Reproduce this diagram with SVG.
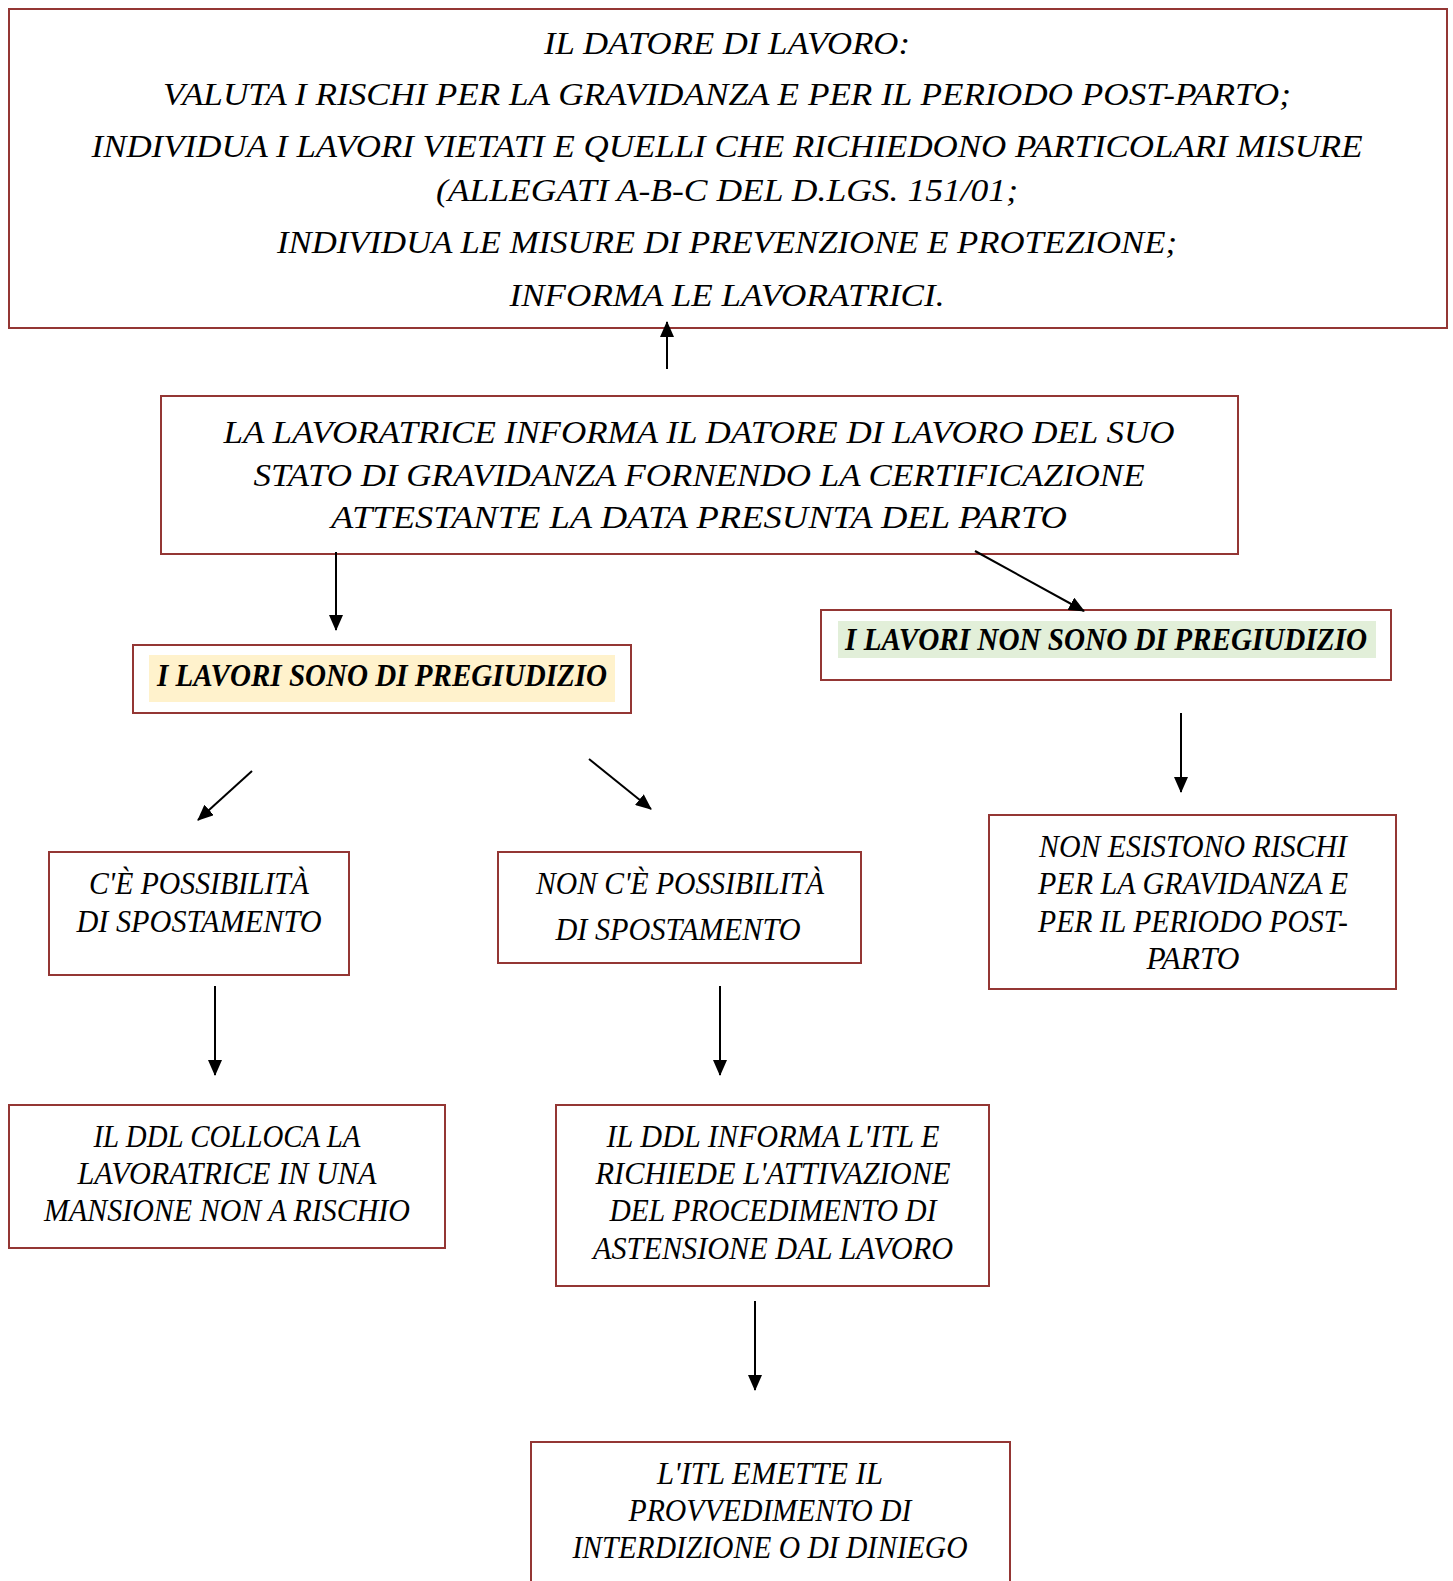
<svg xmlns="http://www.w3.org/2000/svg" width="1453" height="1581" viewBox="0 0 1453 1581">
<defs>
<style>
.box{fill:#ffffff;stroke:#943634;stroke-width:2}
.t{font-family:"Liberation Serif","Times New Roman",serif;font-style:italic;font-size:31px;fill:#000;text-anchor:middle}
.b{font-weight:bold}
.c{stroke:#000;stroke-width:2;fill:none;marker-end:url(#ah)}
</style>
<marker id="ah" viewBox="0 0 16 14" refX="15" refY="7" markerWidth="16" markerHeight="14" markerUnits="userSpaceOnUse" orient="auto">
<path d="M0,0 L16,7 L0,14 Z" fill="#000"/>
</marker>
</defs>
<rect width="1453" height="1581" fill="#ffffff"/>
<g id="n-datore">
<rect class="box" x="9" y="9" width="1438" height="319"/>
<text class="t" x="727" y="54" textLength="366" lengthAdjust="spacingAndGlyphs">IL DATORE DI LAVORO:</text>
<text class="t" x="727" y="105" textLength="1128" lengthAdjust="spacingAndGlyphs">VALUTA I RISCHI PER LA GRAVIDANZA E PER IL PERIODO POST-PARTO;</text>
<text class="t" x="727" y="157" textLength="1271" lengthAdjust="spacingAndGlyphs">INDIVIDUA I LAVORI VIETATI E QUELLI CHE RICHIEDONO PARTICOLARI MISURE</text>
<text class="t" x="727" y="201" textLength="582" lengthAdjust="spacingAndGlyphs">(ALLEGATI A-B-C DEL D.LGS. 151/01;</text>
<text class="t" x="727" y="253" textLength="900" lengthAdjust="spacingAndGlyphs">INDIVIDUA LE MISURE DI PREVENZIONE E PROTEZIONE;</text>
<text class="t" x="727" y="306" textLength="435" lengthAdjust="spacingAndGlyphs">INFORMA LE LAVORATRICI.</text>
</g>
<g id="n-lavoratrice">
<rect class="box" x="161" y="396" width="1077" height="158"/>
<text class="t" x="699" y="443" textLength="951" lengthAdjust="spacingAndGlyphs">LA LAVORATRICE INFORMA IL DATORE DI LAVORO DEL SUO</text>
<text class="t" x="699" y="486" textLength="891" lengthAdjust="spacingAndGlyphs">STATO DI GRAVIDANZA FORNENDO LA CERTIFICAZIONE</text>
<text class="t" x="699" y="528" textLength="736" lengthAdjust="spacingAndGlyphs">ATTESTANTE LA DATA PRESUNTA DEL PARTO</text>
</g>
<g id="n-sono">
<rect class="box" x="133" y="645" width="498" height="68"/>
<rect x="149" y="655" width="466" height="47" fill="#FFF2CC"/>
<text class="t b" x="382" y="686" textLength="450" lengthAdjust="spacingAndGlyphs">I LAVORI SONO DI PREGIUDIZIO</text>
</g>
<g id="n-nonsono">
<rect class="box" x="821" y="610" width="570" height="70"/>
<rect x="838" y="621" width="538" height="37" fill="#E2EFD9"/>
<text class="t b" x="1106" y="650" textLength="522" lengthAdjust="spacingAndGlyphs">I LAVORI NON SONO DI PREGIUDIZIO</text>
</g>
<g id="n-possibilita">
<rect class="box" x="49" y="852" width="300" height="123"/>
<text class="t" x="199" y="894" textLength="220" lengthAdjust="spacingAndGlyphs">C'È POSSIBILITÀ</text>
<text class="t" x="199" y="932" textLength="245" lengthAdjust="spacingAndGlyphs">DI SPOSTAMENTO</text>
</g>
<g id="n-nonpossibilita">
<rect class="box" x="498" y="852" width="363" height="111"/>
<text class="t" x="680" y="894" textLength="288" lengthAdjust="spacingAndGlyphs">NON C'È POSSIBILITÀ</text>
<text class="t" x="678" y="940" textLength="245" lengthAdjust="spacingAndGlyphs">DI SPOSTAMENTO</text>
</g>
<g id="n-nonesistono">
<rect class="box" x="989" y="815" width="407" height="174"/>
<text class="t" x="1193" y="857" textLength="308" lengthAdjust="spacingAndGlyphs">NON ESISTONO RISCHI</text>
<text class="t" x="1193" y="894" textLength="310" lengthAdjust="spacingAndGlyphs">PER LA GRAVIDANZA E</text>
<text class="t" x="1193" y="932" textLength="310" lengthAdjust="spacingAndGlyphs">PER IL PERIODO POST-</text>
<text class="t" x="1193" y="969" textLength="93" lengthAdjust="spacingAndGlyphs">PARTO</text>
</g>
<g id="n-colloca">
<rect class="box" x="9" y="1105" width="436" height="143"/>
<text class="t" x="227" y="1147" textLength="267" lengthAdjust="spacingAndGlyphs">IL DDL COLLOCA LA</text>
<text class="t" x="227" y="1184" textLength="299" lengthAdjust="spacingAndGlyphs">LAVORATRICE IN UNA</text>
<text class="t" x="227" y="1221" textLength="366" lengthAdjust="spacingAndGlyphs">MANSIONE NON A RISCHIO</text>
</g>
<g id="n-informa">
<rect class="box" x="556" y="1105" width="433" height="181"/>
<text class="t" x="773" y="1147" textLength="333" lengthAdjust="spacingAndGlyphs">IL DDL INFORMA L'ITL E</text>
<text class="t" x="773" y="1184" textLength="355" lengthAdjust="spacingAndGlyphs">RICHIEDE L'ATTIVAZIONE</text>
<text class="t" x="773" y="1221" textLength="327" lengthAdjust="spacingAndGlyphs">DEL PROCEDIMENTO DI</text>
<text class="t" x="773" y="1259" textLength="360" lengthAdjust="spacingAndGlyphs">ASTENSIONE DAL LAVORO</text>
</g>
<g id="n-itl">
<rect class="box" x="531" y="1442" width="479" height="170"/>
<text class="t" x="770" y="1484" textLength="226" lengthAdjust="spacingAndGlyphs">L'ITL EMETTE IL</text>
<text class="t" x="770" y="1521" textLength="283" lengthAdjust="spacingAndGlyphs">PROVVEDIMENTO DI</text>
<text class="t" x="770" y="1558" textLength="395" lengthAdjust="spacingAndGlyphs">INTERDIZIONE O DI DINIEGO</text>
</g>
<g id="connectors">
<line class="c" x1="667" y1="369" x2="667" y2="322"/>
<line class="c" x1="336" y1="552" x2="336" y2="630"/>
<line class="c" x1="975" y1="551" x2="1084" y2="611"/>
<line class="c" x1="1181" y1="713" x2="1181" y2="792"/>
<line class="c" x1="252" y1="771" x2="198" y2="820"/>
<line class="c" x1="589" y1="759" x2="651" y2="809"/>
<line class="c" x1="215" y1="986" x2="215" y2="1075"/>
<line class="c" x1="720" y1="986" x2="720" y2="1075"/>
<line class="c" x1="755" y1="1301" x2="755" y2="1390"/>
</g>
</svg>
